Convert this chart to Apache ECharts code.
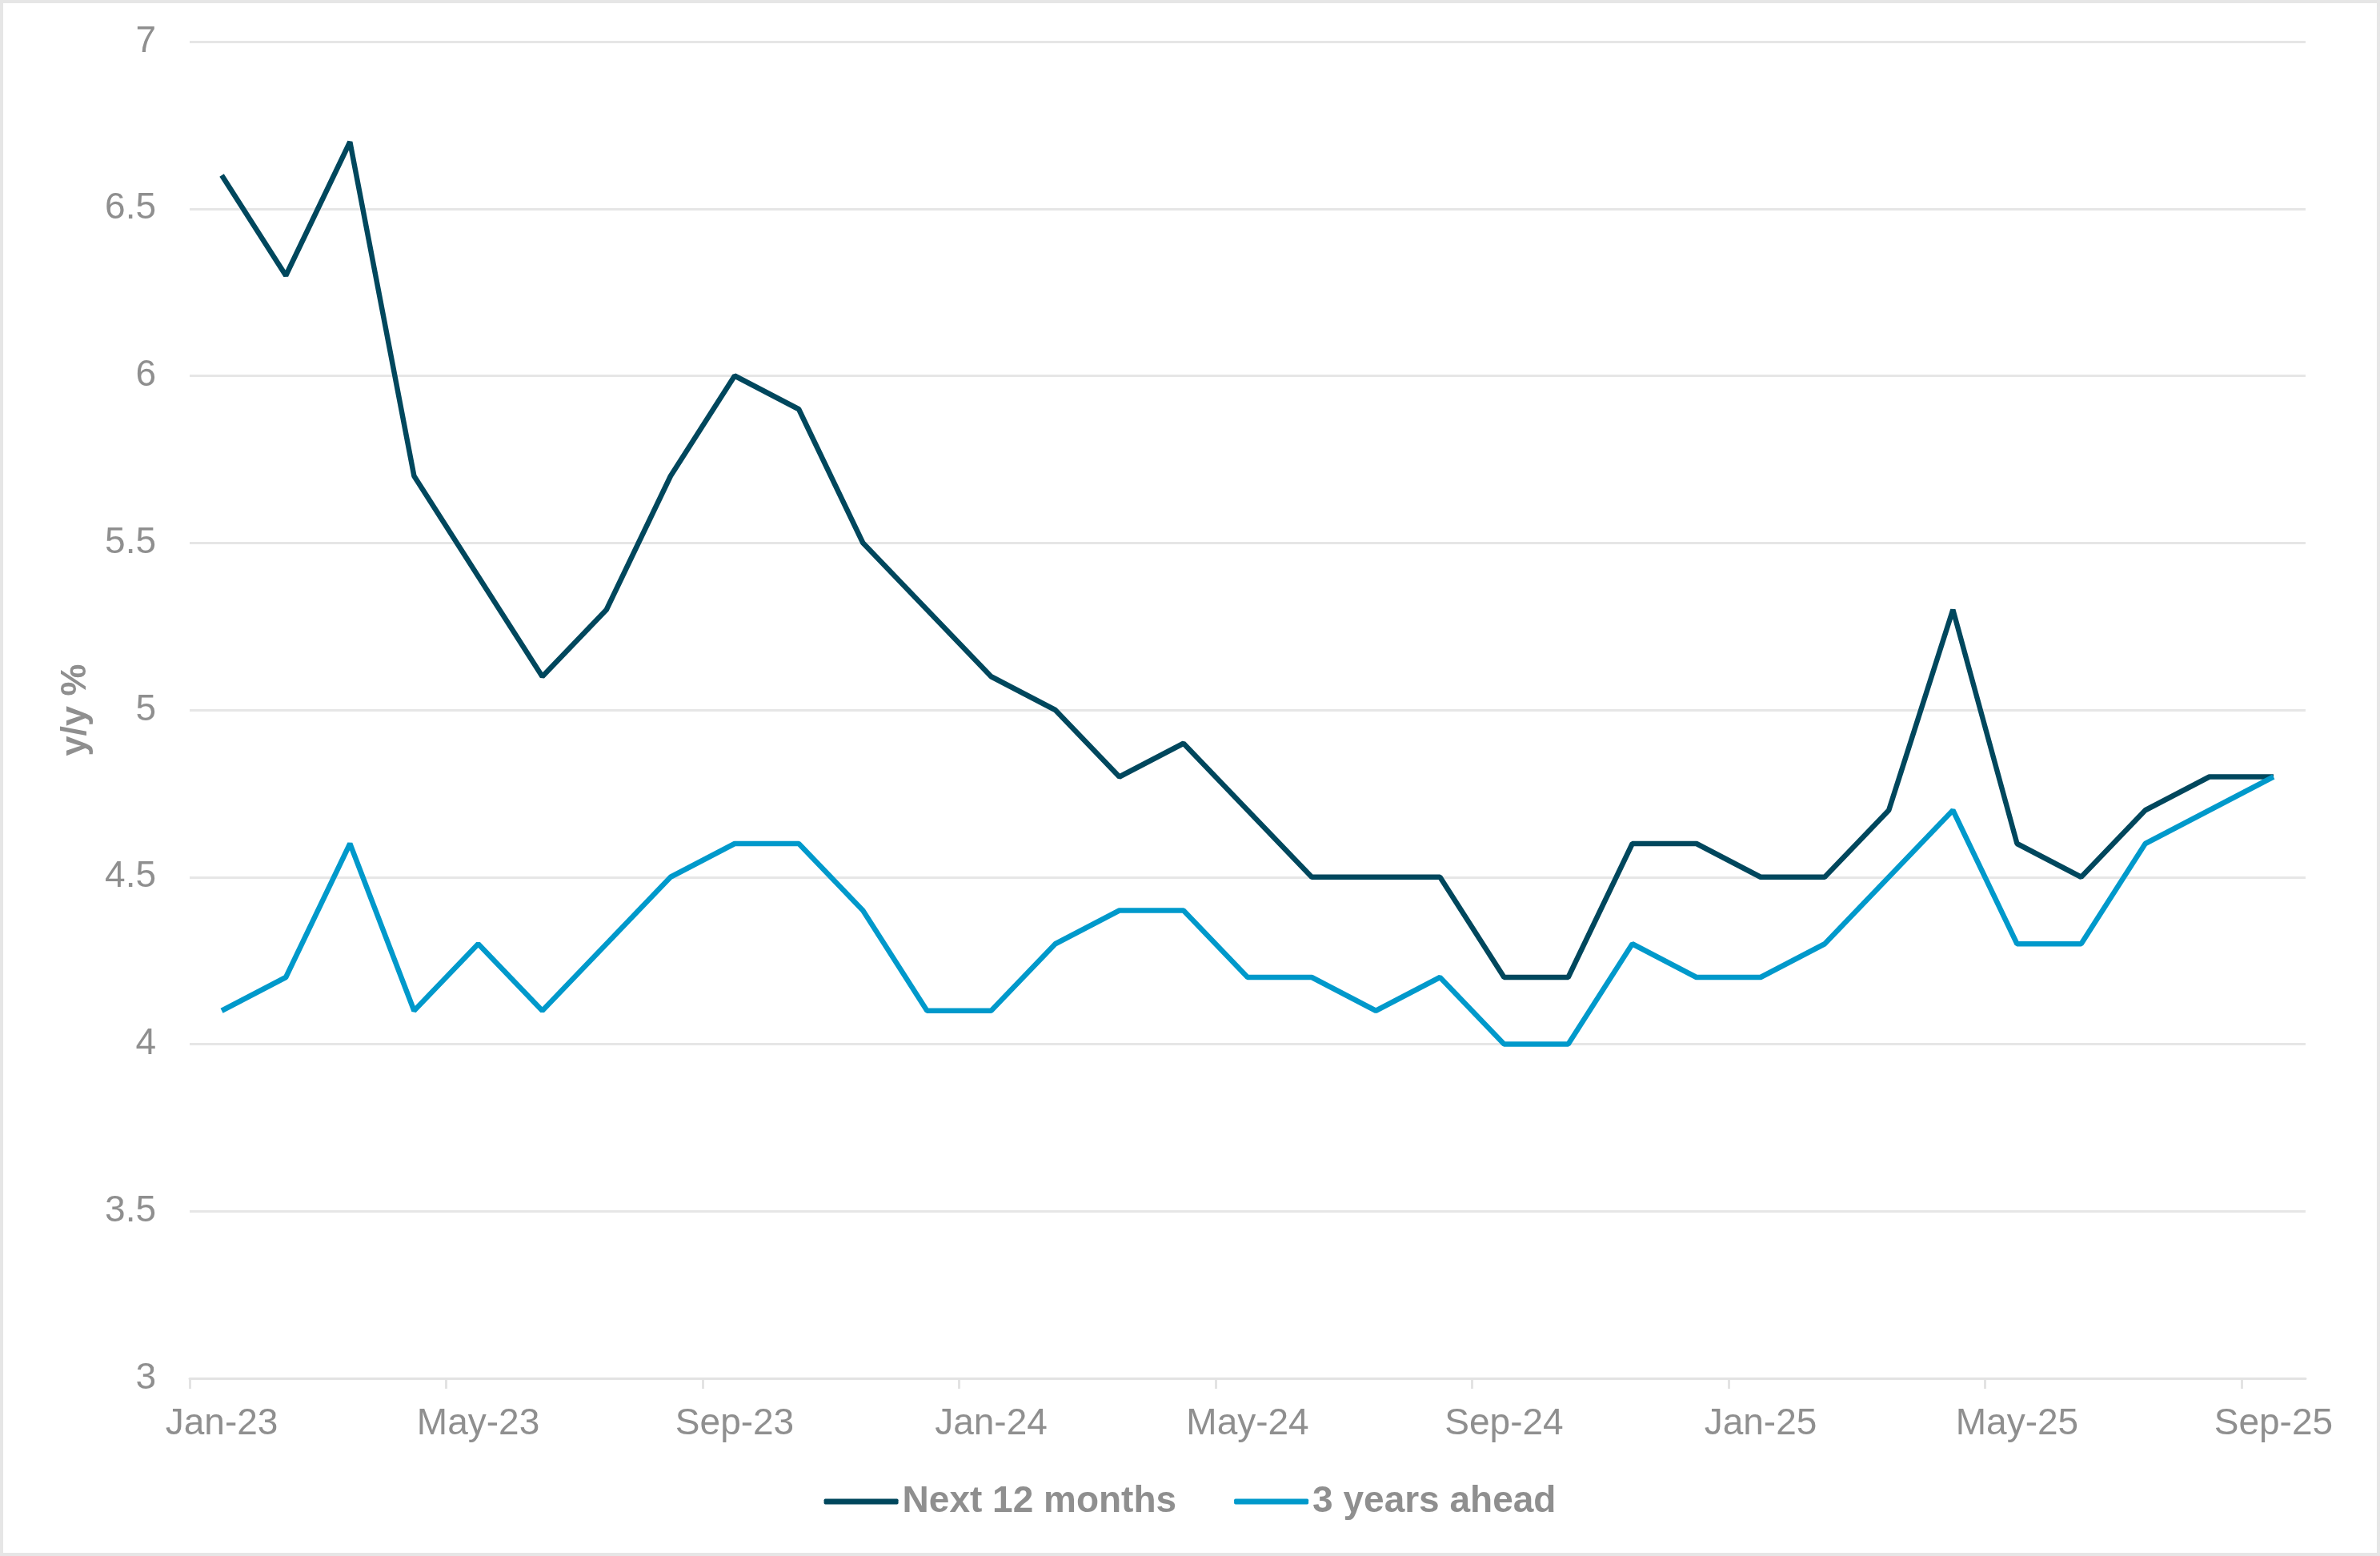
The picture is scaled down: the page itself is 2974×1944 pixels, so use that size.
<!DOCTYPE html>
<html>
<head>
<meta charset="utf-8">
<script src="https://cdn.jsdelivr.net/npm/echarts@6/dist/echarts.min.js"></script>
<style>
html,body{margin:0;padding:0;background:#fff;}
#c{width:2974px;height:1944px;position:absolute;left:0;top:0;}
#b{position:absolute;left:0;top:0;width:2974px;height:1944px;box-sizing:border-box;border:4px solid #e6e6e6;pointer-events:none;}
</style>
</head>
<body>
<div id="c"></div>
<div id="b"></div>
<script>
const categories = [
 'Jan-23','Feb-23','Mar-23','Apr-23','May-23','Jun-23','Jul-23','Aug-23','Sep-23','Oct-23','Nov-23','Dec-23',
 'Jan-24','Feb-24','Mar-24','Apr-24','May-24','Jun-24','Jul-24','Aug-24','Sep-24','Oct-24','Nov-24','Dec-24',
 'Jan-25','Feb-25','Mar-25','Apr-25','May-25','Jun-25','Jul-25','Aug-25','Sep-25'
];
const next12Months = [6.6,6.3,6.7,5.7,5.4,5.1,5.3,5.7,6.0,5.9,5.5,5.3,
                      5.1,5.0,4.8,4.9,4.7,4.5,4.5,4.5,4.2,4.2,4.6,4.6,
                      4.5,4.5,4.7,5.3,4.6,4.5,4.7,4.8,4.8];
const threeYearsAhead = [4.1,4.2,4.6,4.1,4.3,4.1,4.3,4.5,4.6,4.6,4.4,4.1,
                         4.1,4.3,4.4,4.4,4.2,4.2,4.1,4.2,4.0,4.0,4.3,4.2,
                         4.2,4.3,4.5,4.7,4.3,4.3,4.6,4.7,4.8];
const seriesNames = ['Next 12 months','3 years ahead'];
const labelEvery = 4;
const yTicks = {min:3, max:7, interval:0.5};

// category index positions for labels (every 4th month) and boundary ticks before them
const labelIdx = categories.map((c,i)=>i).filter(i=>i%labelEvery===0);
const tickIdx = labelIdx.map(i=>i-0.5);

const FONT = 'Liberation Sans, Arial, sans-serif';
const GREY = '#8f8f8f';
const chart = echarts.init(document.getElementById('c'));
chart.setOption({
  animation:false,
  backgroundColor:'#fff',
  grid:{left:237, right:93, top:52, bottom:222, containLabel:false},
  legend:{
    bottom:40, left:'center',
    itemWidth:93, itemHeight:7, itemGap:72,
    icon:'roundRect',
    textStyle:{fontFamily:FONT, fontSize:46, fontWeight:'bold', color:GREY},
    data:seriesNames
  },
  xAxis:{
    type:'value', min:-0.5, max:categories.length-0.5,
    splitLine:{show:false},
    axisLine:{show:true, onZero:false, lineStyle:{color:'#e3e3e3', width:3}},
    axisTick:{show:true, customValues:tickIdx, length:13, lineStyle:{color:'#e3e3e3', width:3}},
    axisLabel:{customValues:labelIdx, formatter:v=>categories[Math.round(v)], margin:34,
               fontFamily:FONT, fontSize:46, color:GREY, showMinLabel:true, showMaxLabel:true}
  },
  yAxis:{
    type:'value', min:yTicks.min, max:yTicks.max, interval:yTicks.interval,
    name:'y/y %', nameLocation:'middle', nameGap:120, nameRotate:90,
    nameTextStyle:{fontFamily:FONT, fontSize:45, fontWeight:'bold', color:GREY},
    axisLine:{show:false}, axisTick:{show:false},
    axisLabel:{margin:42, fontFamily:FONT, fontSize:46, color:GREY},
    splitLine:{lineStyle:{color:'#e6e6e6', width:3}}
  },
  series:[
    {name:seriesNames[0], type:'line', data:next12Months.map((v,i)=>[i,v]), symbol:'none',
     lineStyle:{color:'#00475d', width:6.5}, itemStyle:{color:'#00475d'}},
    {name:seriesNames[1], type:'line', data:threeYearsAhead.map((v,i)=>[i,v]), symbol:'none',
     lineStyle:{color:'#0099cb', width:6.5}, itemStyle:{color:'#0099cb'}}
  ]
});
</script>
</body>
</html>
